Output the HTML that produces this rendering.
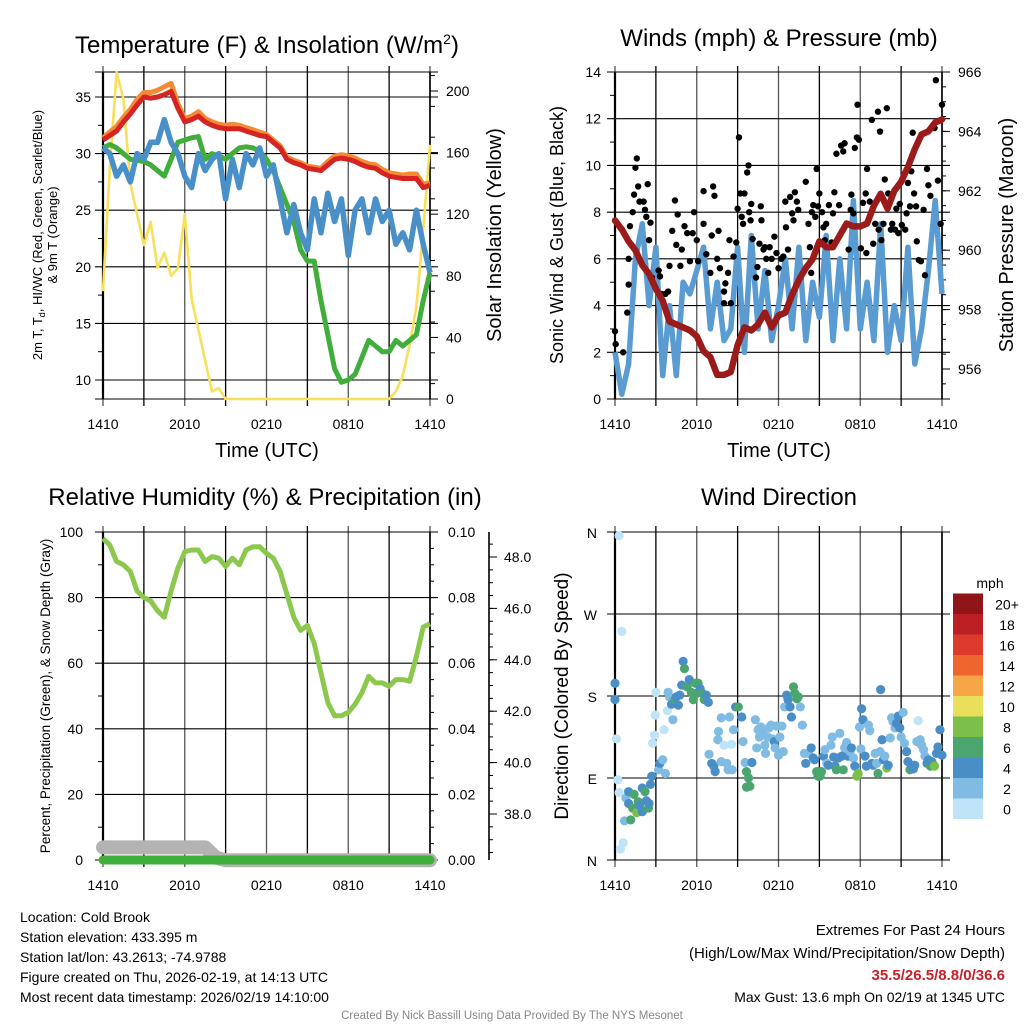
<!DOCTYPE html>
<html><head><meta charset="utf-8"><style>
html,body{margin:0;padding:0;background:#fff}
svg{display:block;font-family:"Liberation Sans",sans-serif}
</style></head><body>
<svg id="s" width="1024" height="1024" viewBox="0 0 1024 1024" xmlns="http://www.w3.org/2000/svg">
<rect width="1024" height="1024" fill="#fff"/>
<g id="g"></g>
<text x="267" y="53" font-size="24" text-anchor="middle">Temperature (F) &amp; Insolation (W/m<tspan font-size="14" dy="-9">2</tspan><tspan dy="9">)</tspan></text>
<text x="779" y="46" font-size="24" text-anchor="middle">Winds (mph) &amp; Pressure (mb)</text>
<text x="265" y="505" font-size="24" text-anchor="middle">Relative Humidity (%) &amp; Precipitation (in)</text>
<text x="779" y="505" font-size="24" text-anchor="middle">Wind Direction</text>
<text x="267" y="457" font-size="20" text-anchor="middle">Time (UTC)</text>
<text x="779" y="457" font-size="20" text-anchor="middle">Time (UTC)</text>
<text transform="translate(42,235) rotate(-90)" font-size="13" text-anchor="middle">2m T, T<tspan font-size="9" dy="3">d</tspan><tspan dy="-3">, HI/WC (Red, Green, Scarlet/Blue)</tspan></text>
<text transform="translate(57,235) rotate(-90)" font-size="13" text-anchor="middle">&amp; 9m T (Orange)</text>
<text transform="translate(501,235) rotate(-90)" font-size="20" text-anchor="middle">Solar Insolation (Yellow)</text>
<text transform="translate(563,235) rotate(-90)" font-size="18" text-anchor="middle">Sonic Wind &amp; Gust (Blue, Black)</text>
<text transform="translate(1013,235) rotate(-90)" font-size="20" text-anchor="middle">Station Pressure (Maroon)</text>
<text transform="translate(50,696) rotate(-90)" font-size="13.5" text-anchor="middle">Percent, Precipitation (Green), &amp; Snow Depth (Gray)</text>
<text transform="translate(568,696) rotate(-90)" font-size="19" text-anchor="middle">Direction (Colored By Speed)</text>
<g font-size="14">
<text x="20" y="922">Location: Cold Brook</text>
<text x="20" y="942">Station elevation: 433.395 m</text>
<text x="20" y="962">Station lat/lon: 43.2613; -74.9788</text>
<text x="20" y="982">Figure created on Thu, 2026-02-19, at 14:13 UTC</text>
<text x="20" y="1002">Most recent data timestamp: 2026/02/19 14:10:00</text>
</g>
<g font-size="14" text-anchor="end">
<text x="1005" y="935" font-size="15">Extremes For Past 24 Hours</text>
<text x="1005" y="958" font-size="15">(High/Low/Max Wind/Precipitation/Snow Depth)</text>
<text x="1005" y="980" font-size="15" font-weight="bold" fill="#c8202a">35.5/26.5/8.8/0/36.6</text>
<text x="1005" y="1002">Max Gust: 13.6 mph On 02/19 at 1345 UTC</text>
</g>
<text x="512" y="1019" font-size="11.5" fill="#888" text-anchor="middle">Created By Nick Bassill Using Data Provided By The NYS Mesonet</text>
</svg>
<script>
// ---------- data ----------
const tHalf = [0,0.5,1,1.5,2,2.5,3,3.5,4,4.5,5,5.5,6,6.5,7,7.5,8,8.5,9,9.5,10,10.5,11,11.5,12,12.5,13,13.5,14,14.5,15,15.5,16,16.5,17,17.5,18,18.5,19,19.5,20,20.5,21,21.5,22,22.5,23,23.5,24];
const xTickLabels = ["1410","2010","0210","0810","1410"];
const tempRed = [31.2,31.6,32,32.8,33.5,34.3,35,34.9,35,35.2,35.5,34,32.8,33,33.3,32.8,32.5,32.3,32.2,32.2,32.2,32,31.8,31.6,31.5,31,30.5,29.5,29.2,29,28.7,28.6,28.5,29,29.5,29.6,29.5,29.3,29,28.8,28.7,28.3,28,27.9,27.8,27.8,27.8,27,27.2];
const tempOrange = [31.4,31.9,32.4,33.2,33.9,34.8,35.4,35.4,35.6,35.9,36.2,34.4,33.1,33.3,33.7,33.1,32.8,32.6,32.5,32.6,32.5,32.3,32.1,31.9,31.7,31.2,30.7,29.7,29.4,29.2,28.9,28.8,28.7,29.3,29.8,29.9,29.8,29.6,29.3,29.1,29,28.6,28.3,28.2,28.1,28.2,28.2,27.3,27.4];
const dewGreen = [30.5,30.8,30.5,30,29.5,29.4,29.3,29,28.5,28,29.5,31,31.2,31.4,31.5,29.5,30,29.8,29.5,30,30.5,30.6,30.5,30.2,29.5,28.5,27,25.5,24,21.5,20.5,20.5,17,14,11,9.8,10,10.5,12,13.5,13,12.5,12.5,13.5,13,13.5,14,17,19.5];
const windChill = [30.5,30,28,29,27.5,30,29.5,31,31,33,31,30,28,27,30,28.5,29.5,30,26,29.5,27,30,29,30.5,28,29,26,23,25.5,23,21.5,26,23,26.5,24,26,21,25,26,23,26,24,25,22,23,21.5,25,22,19.5];
const insolation = [70,150,212,195,140,120,100,115,85,95,80,85,120,65,45,25,5,7,0,0,0,0,0,0,0,0,0,0,0,0,0,0,0,0,0,0,0,0,0,0,0,0,0,5,15,35,60,110,165];
const tempTicks = [10,15,20,25,30,35];
const insolTicks = [0,40,80,120,160,200];

const sonicWind = [2,0.2,1.5,6,7.5,4,6.5,1,4,1,5,4.5,5.5,6.5,3,5,2.5,3,6.5,2,7,3,5.5,2.5,4,6,3,6.5,2.5,5,3.5,7,2.5,6,3,8.5,3,5,2.5,7.5,2,4,2.5,6.5,1.5,3,5.5,8.5,4.5];
const pressure = [961.0,960.7,960.3,960,959.5,959.2,958.7,958.3,957.6,957.5,957.4,957.3,957.1,956.6,956.4,955.8,955.8,955.9,956.8,957.4,957.3,957.5,957.9,957.4,957.8,957.9,958.5,959.0,959.4,959.7,960.3,960.1,960.1,960.5,960.9,960.8,960.8,960.9,961.5,961.9,961.4,962.0,962.3,962.8,963.4,963.9,964.0,964.3,964.4];
const gustT = [0,0.05,0.6,0.9,1,1,1.1,1.3,1.4,1.5,1.6,1.7,1.8,2.1,2.2,2.3,2.4,2.6,2.5,2.7,3.2,3.3,3.4,3.7,3.9,4,4.2,4.4,4.5,4.6,4.8,4.9,5.1,5.3,5.5,5.7,5.8,6,6.1,6.5,6.5,6.7,7,7.1,7.2,7.3,7.5,7.6,7.7,8,8,8.1,8.3,8.4,8.5,8.7,8.9,9,9.1,9.2,9.3,9.4,9.5,9.7,9.8,9.85,9.95,10,10.1,10.35,10.45,10.6,10.7,10.75,10.9,11,11.1,11.25,11.35,11.5,11.7,11.85,12,12.2,12.35,12.5,12.55,12.7,12.85,13,13.1,13.2,13.35,13.45,14,14.2,14.3,14.4,14.45,14.55,14.7,14.8,14.9,15,15.2,15.3,15.4,15.5,15.7,15.9,16,16.1,16.25,16.45,16.6,16.75,16.85,17.15,17.3,17.35,17.5,17.6,17.75,17.8,17.9,18.05,18.2,18.4,18.45,18.5,18.7,18.85,18.95,19.1,19.3,19.35,19.45,19.55,19.7,19.8,19.95,20.05,20.25,20.35,20.55,20.65,20.8,20.9,21.05,21.3,21.4,21.5,21.65,21.75,21.85,21.95,22.1,22.15,22.3,22.45,22.65,22.75,22.9,23,23.15,23.45,23.55,23.7,23.9,24];
const gustV = [2.9,2.35,2.0,3.7,4.9,6,7.4,8,8.75,9.9,10.3,9.1,8.45,8.45,8.1,7.8,9.2,7.55,6.8,5.2,5.5,5.25,4.5,4.5,4.6,5.7,7.2,8.5,6.6,7.9,5.7,6.4,7.4,7.1,5.9,7.1,8,6.8,5.9,8.9,7.5,6.2,5.4,7,9.1,8.7,6,7.2,5.6,4.6,4.1,4.95,5.4,6.8,4.1,6.1,6.7,8.15,11.2,8.8,7.8,7.5,8.8,9.7,10,8,7.65,8.35,6.85,5.2,5.65,6.65,8.25,7.65,6.4,6.5,6,5.4,6.5,6,6.95,6.25,5.6,6,6.1,8.45,7.35,6.4,8.65,7.95,7.65,8.85,8.45,8.1,9.3,7.5,6.5,5.4,8,8.3,7.8,9.85,8.25,8.8,8,7.35,6.8,7.5,8.3,6.7,7.95,8.85,10.5,8.3,10.85,10.6,10.95,6.4,8.1,8.75,7.95,10.75,11.2,12.6,11.1,6.45,8.4,8.8,6.25,9.85,8.45,11.95,6.65,7.5,12.3,7.25,11.45,6.8,7.5,9.4,12.45,8.8,7.25,7.5,7.25,8.15,7.1,8.35,7.45,7.25,7.95,9.25,8.25,9.75,11.4,8.8,8.25,6.75,5.95,5.9,8.1,5.3,9.85,9.15,8.7,11.6,13.65,9.35,7.5,12.6];
const windTicks = [0,2,4,6,8,10,12,14];
const presTicks = [956,958,960,962,964,966];

const rh = [98,96,91,90,88,82,80,79,76,74,82,89,94,94.5,94.5,91,92.5,92,89.5,92,90,94.5,95.5,95.5,93.5,92,88,81,74,70,71.5,66,57,48,44,44,45,47.5,51,56,54,54,53,55,55,54.5,62,71,72];
const precip = [0,0,0,0,0,0,0,0,0,0,0,0,0,0,0,0,0,0,0,0,0,0,0,0,0,0,0,0,0,0,0,0,0,0,0,0,0,0,0,0,0,0,0,0,0,0,0,0,0];
const snowT = [0,2,4,6,7.5,8.3,9,12,16,20,24];
const snowDepth = [36.7,36.7,36.7,36.7,36.7,36.3,36.2,36.2,36.2,36.2,36.2];
const rhTicks = [0,20,40,60,80,100];
const precipTicks = ["0.00","0.02","0.04","0.06","0.08","0.10"];
const snowTicks = ["38.0","40.0","42.0","44.0","46.0","48.0"];

const dirT = [0,0,0.1,0.2,0.3,0.3,0.5,0.6,0.4,0.7,0.8,1,1,1.15,1.3,1.4,1.6,1.7,1.8,2,2,2.2,2.3,2.45,2.5,2.6,2.7,2.75,2.9,2.95,3,3.2,3.3,3.5,3.6,3.7,3.85,3.9,4,4.15,4.25,4.4,4.5,4.65,4.75,4.9,5,5.1,5.3,5.45,5.6,5.75,5.9,6,6.1,6.25,6.4,6.55,6.7,6.85,6.9,7.1,7.25,7.35,7.55,7.6,7.8,7.8,8,8.2,8.3,8.4,8.55,8.6,8.7,8.85,9.05,9.3,9.4,9.55,9.65,9.8,9.9,9.65,10.05,10.3,10.4,10.5,10.6,10.7,10.85,11,11.05,11.2,11.3,11.45,11.55,11.7,11.75,11.85,12,12.1,12.25,12.35,12.45,12.6,12.7,12.85,12.95,13.1,13.2,13.35,13.45,13.6,13.75,13.9,14,14.2,14.4,14.55,14.65,14.8,14.9,15.05,15.15,15.3,15.4,15.55,15.65,15.85,15.95,16.05,16.15,16.25,16.4,16.5,16.65,16.75,16.85,17,17.1,17.25,17.35,17.5,17.6,17.75,17.85,17.95,18.05,18.1,18.2,18.35,18.45,18.6,18.7,18.85,18.95,19.1,19.2,19.3,19.45,19.5,19.6,19.7,19.8,19.95,20.05,20.2,20.3,20.4,20.55,20.65,20.8,20.9,21,21.15,21.25,21.4,21.5,21.65,21.75,21.9,22,22.15,22.25,22.4,22.5,22.65,22.75,22.9,23,23.15,23.25,23.4,23.45,23.6,23.7,23.85,24];
const dirDeg = [194,176,133,88,74,356,251,19,12,43,68,62,75,44,57,72,52,64,60,79,53,75,65,57,62,83,92,128,137,159,184,99,106,110,143,95,164,184,179,171,154,176,179,170,181,192,218,210,190,198,184,176,194,183,194,188,183,176,181,173,116,106,103,97,132,141,156,108,126,106,99,157,127,99,143,168,168,157,130,107,97,90,81,80,107,154,123,143,135,146,139,126,117,135,145,148,133,130,123,147,115,135,147,119,168,181,176,168,157,190,183,177,179,168,148,117,106,117,123,112,110,97,92,92,97,114,121,106,104,126,135,113,103,99,112,139,114,99,123,129,114,119,123,112,103,92,95,146,122,166,154,114,103,148,142,106,104,117,106,95,119,187,132,110,114,101,104,134,156,152,145,150,158,145,135,162,128,119,108,99,104,100,104,130,153,132,126,121,114,106,110,103,108,104,103,117,124,143,115];
const dirSpeed = [5,5,1.5,1.5,1.5,1.5,1.5,1.5,1.5,3,3,5,5,7,7,7,9,7,5,5,5,7,5,7,5,5,5,1.5,1.5,1.5,1.5,3,5,3,1.5,3,1.5,3,3,5,3,7,5,5,5,5,5,7,7,5,7,7,7,7,7,5,7,7,5,5,3,5,5,5,3,3,3,3,1.5,3,3,3,1.5,3,3,5,7,5,3,3,7,7,7,7,5,3,3,3,3,3,3,3,3,3,3,3,3,5,3,3,3,3,3,3,3,5,5,5,5,7,7,7,7,3,3,3,5,3,5,5,5,7,7,7,7,5,3,3,5,3,3,5,5,7,5,3,5,7,3,3,5,3,5,3,5,9,9,3,3,5,5,5,5,3,3,5,5,3,3,7,3,5,5,5,3,9,5,3,3,3,3,5,5,5,3,3,3,5,5,7,5,5,5,3,1.5,3,3,3,3,5,5,7,5,7,9,5,5,5,5];
const dirTickLabels = ["N","E","S","W","N"];
const speedBins = ["0","2","4","6","8","10","12","14","16","18","20+"];

// ---------- rendering ----------
const NS = "http://www.w3.org/2000/svg";
const G = document.getElementById('g');
function mk(tag, attrs, parent) {
  const e = document.createElementNS(NS, tag);
  for (const k in attrs) e.setAttribute(k, attrs[k]);
  (parent || G).appendChild(e);
  return e;
}
function txt(x, y, s, size, anchor, parent) {
  const e = mk('text', {x: x, y: y, 'font-size': size, 'text-anchor': anchor || 'middle'}, parent);
  e.textContent = s;
  return e;
}
const X0L = 103, X1L = 430, X0R = 615, X1R = 942;
const xL = t => X0L + t * (X1L - X0L) / 24;
const xR = t => X0R + t * (X1R - X0R) / 24;
function pathD(xs, ys) { return xs.map((x, i) => (i ? 'L' : 'M') + x.toFixed(1) + ',' + ys[i].toFixed(1)).join(''); }

function panelFrame(x0, x1, y0, y1, name) {
  const g = mk('g', {});
  
  
  for (let h = 0; h <= 24; h += 3) {
    const x = x0 + h * (x1 - x0) / 24;
    mk('line', {x1: x, x2: x, y1: y0 - 6, y2: y1 + 7, stroke: (h % 6 == 0) ? '#555' : '#000', 'stroke-width': 1.3}, g);
  }
  xTickLabels.forEach((s, i) => {
    const l = txt(x0 + i * (x1 - x0) / 4, y1 + 30, s, 14, 'middle', g);
    
    
  });
  mk('line', {x1: x0, x2: x0, y1: y0, y2: y1, stroke: '#000', 'stroke-width': 2.2}, g);
  mk('line', {x1: x1, x2: x1, y1: y0, y2: y1, stroke: '#000', 'stroke-width': 1.6}, g);
  return g;
}
function hgrid(x0, x1, y, g, ext) {
  mk('line', {x1: x0 - 8, x2: x1 + (ext || 8), y1: y, y2: y, stroke: '#000', 'stroke-width': 1.1}, g);
}

// ===== Panel 1: temperature =====
const yT = v => 380 - (v - 10) * 11.32;
const yI = v => 399 - v * 1.54;
let f1 = panelFrame(X0L, X1L, 72, 399, 'temp');
hgrid(X0L, X1L, 72, f1, 0); hgrid(X0L, X1L, 399, f1, 8);
tempTicks.forEach(v => { hgrid(X0L, X1L, yT(v), f1); const l = txt(X0L - 12, yT(v) + 5, String(v), 14, 'end', f1);   });
for (let v = 12.5; v < 37; v += 5) mk('line', {x1: X0L - 5, x2: X0L, y1: yT(v), y2: yT(v), stroke: '#000'}, f1);
insolTicks.forEach(v => { mk('line', {x1: X1L, x2: X1L + 8, y1: yI(v), y2: yI(v), stroke: '#000'}, f1); const l = txt(X1L + 16, yI(v) + 5, String(v), 14, 'start', f1);   });
for (let v = 10; v < 212; v += 20) mk('line', {x1: X1L, x2: X1L + 5, y1: yI(v), y2: yI(v), stroke: '#000'}, f1);
const xs1 = tHalf.map(xL);
let p;
p = mk('path', {d: pathD(xs1, insolation.map(yI)), fill: 'none', stroke: '#f8e05a', 'stroke-width': 2.6, 'stroke-linejoin': 'round'});
 
p = mk('path', {d: pathD(xs1, dewGreen.map(yT)), fill: 'none', stroke: '#3fae3a', 'stroke-width': 5, 'stroke-linejoin': 'round'});
 
p = mk('path', {d: pathD(xs1, windChill.map(yT)), fill: 'none', stroke: '#4a90c8', 'stroke-width': 5.5, 'stroke-linejoin': 'round'});
 
p = mk('path', {d: pathD(xs1, tempOrange.map(yT)), fill: 'none', stroke: '#f58a32', 'stroke-width': 5, 'stroke-linejoin': 'round'});
 
p = mk('path', {d: pathD(xs1, tempRed.map(yT)), fill: 'none', stroke: '#d52424', 'stroke-width': 5, 'stroke-linejoin': 'round'});
 

// ===== Panel 2: winds =====
const yW = v => 399 - v * 327 / 14;
const yP = v => 369 - (v - 956) * 29.7;
let f2 = panelFrame(X0R, X1R, 72, 399, 'winds');
windTicks.forEach(v => { hgrid(X0R, X1R, yW(v), f2); const l = txt(X0R - 14, yW(v) + 5, String(v), 14, 'end', f2);   });
for (let v = 1; v < 14; v += 2) mk('line', {x1: X0R - 5, x2: X0R, y1: yW(v), y2: yW(v), stroke: '#000'}, f2);
presTicks.forEach(v => { mk('line', {x1: X1R, x2: X1R + 8, y1: yP(v), y2: yP(v), stroke: '#000'}, f2); const l = txt(X1R + 16, yP(v) + 5, String(v), 14, 'start', f2);   });
for (let v = 955.5; v < 966; v += 0.5) mk('line', {x1: X1R, x2: X1R + 4, y1: yP(v), y2: yP(v), stroke: '#000'}, f2);
const xs2 = tHalf.map(xR);
p = mk('path', {d: pathD(xs2, sonicWind.map(yW)), fill: 'none', stroke: '#5a9bd2', 'stroke-width': 5.5, 'stroke-linejoin': 'round'});
 
gustT.forEach((t, i) => {
  const c = mk('circle', {cx: xR(t), cy: yW(gustV[i]), r: 3.2, fill: '#000'});
  
  
});
p = mk('path', {d: pathD(xs2, pressure.map(yP)), fill: 'none', stroke: '#9b1b1b', 'stroke-width': 6.5, 'stroke-linejoin': 'round', 'stroke-linecap': 'round'});
 

// ===== Panel 3: RH =====
const yH = v => 860 - v * 3.28;
const yPr = v => 860 - v * 3280;
const yS = v => 814 - (v - 38) * 25.7;
let f3 = panelFrame(X0L, X1L, 532, 860, 'rh');
rhTicks.forEach(v => { hgrid(X0L, X1L, yH(v), f3); const l = txt(X0L - 20, yH(v) + 5, String(v), 14, 'end', f3);   });
for (let v = 10; v < 100; v += 20) mk('line', {x1: X0L - 5, x2: X0L, y1: yH(v), y2: yH(v), stroke: '#000'}, f3);
precipTicks.forEach((s, i) => { const l = txt(X1L + 18, yH(i * 20) + 5, s, 14, 'start', f3);   });
for (let v = 5; v < 100; v += 5) mk('line', {x1: X1L, x2: X1L + 4, y1: yH(v), y2: yH(v), stroke: '#000'}, f3);
mk('line', {x1: 489, x2: 489, y1: 532, y2: 860, stroke: '#000', 'stroke-width': 1.6}, f3);
snowTicks.forEach((s, i) => { const v = 38 + 2 * i; mk('line', {x1: 489, x2: 497, y1: yS(v), y2: yS(v), stroke: '#000'}, f3); const l = txt(504, yS(v) + 5, s, 14, 'start', f3);   });
for (let v = 36.5; v < 49; v += 0.5) mk('line', {x1: 489, x2: 493, y1: yS(v), y2: yS(v), stroke: '#000'}, f3);
p = mk('path', {d: pathD(snowT.map(xL), snowDepth.map(yS)), fill: 'none', stroke: '#b3b3b3', 'stroke-width': 14, 'stroke-linejoin': 'round', 'stroke-linecap': 'round'});
 
p = mk('path', {d: pathD(tHalf.map(xL), precip.map(yPr)), fill: 'none', stroke: '#3fae3a', 'stroke-width': 9, 'stroke-linecap': 'round'});
 
mk('line', {x1: X0L, x2: X1L, y1: 860, y2: 860, stroke: '#000', 'stroke-width': 1.2}, f3);
p = mk('path', {d: pathD(tHalf.map(xL), rh.map(yH)), fill: 'none', stroke: '#8cc84e', 'stroke-width': 5, 'stroke-linejoin': 'round'});
 

// ===== Panel 4: wind direction =====
const yD = d => 860 - d * 328 / 360;
let f4 = panelFrame(X0R, X1R, 532, 860, 'wdir');
dirTickLabels.forEach((s, i) => { hgrid(X0R, X1R, yD(i * 90), f4); const l = txt(X0R - 18, yD(i * 90) + 6, s, 14, 'end', f4);   });
const binColors = ['#bfe4f7', '#80bbe4', '#4a8ec8', '#4aa56e', '#7cc04a', '#e8e05a', '#f6a646', '#ee6530', '#dc3a2c', '#bb1e25', '#8f1519'];
const colorFor = s => binColors[Math.min(10, Math.floor(s / 2))];
dirT.forEach((t, i) => {
  const c = mk('circle', {cx: xR(t), cy: yD(dirDeg[i]), r: 4.6, fill: colorFor(dirSpeed[i])});
  
  
});
const lg = mk('g', {});


txt(990, 588, 'mph', 14, 'middle', lg);
speedBins.forEach((s, i) => {
  const y = 819 - (i + 1) * 20.5;
  const r = mk('rect', {x: 953, y: y, width: 30, height: 20.5, fill: binColors[i]}, lg);
  
  
  txt(1007, y + 16, s, 14, 'middle', lg);
});
</script>
</body></html>
